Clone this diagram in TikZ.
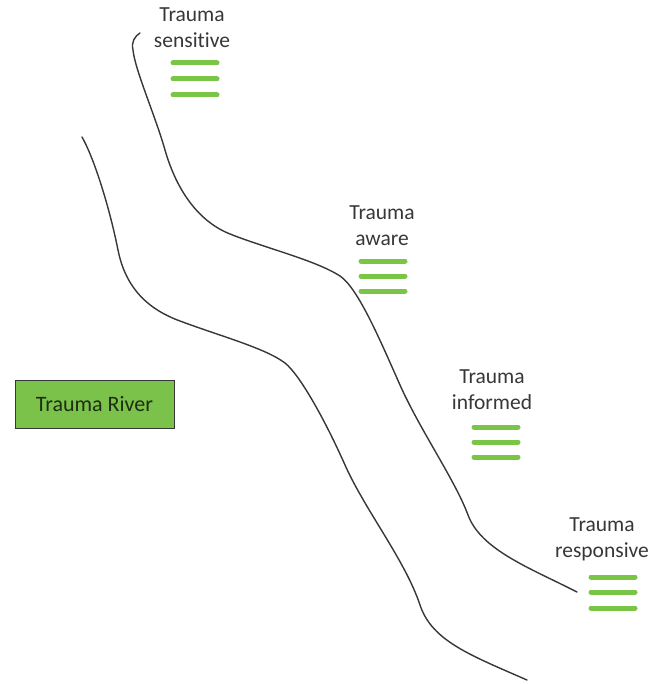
\documentclass[tikz,border=0pt]{standalone}
\usepackage{fontspec}
\setmainfont{Carlito}[Ligatures={NoCommon}]
\definecolor{bargreen}{RGB}{122,196,70}
\definecolor{boxgreen}{RGB}{122,194,74}
\definecolor{inkgray}{RGB}{55,55,55}
\begin{document}
\begin{tikzpicture}[x=1pt,y=-1pt,
  bank/.style={draw=inkgray,line width=1.4pt,line cap=round},
  lbl/.style={align=center,text=inkgray,font=\fontsize{21.5}{26}\selectfont,inner sep=0pt},
  bar/.style={draw=bargreen,line width=5pt,line cap=round}]
\useasboundingbox (0,0) rectangle (650,684);
% right (upper) bank
\draw[bank] (140,33) .. controls (135,36) and (131,42) .. (133,50)
  .. controls (135,70) and (155,115) .. (165,150)
  .. controls (175,185) and (195,220) .. (230,234)
  .. controls (265,248) and (315,260) .. (340,276)
  .. controls (358,288) and (380,340) .. (400,385)
  .. controls (420,430) and (455,480) .. (468,515)
  .. controls (481,550) and (530,568) .. (577,592);
% left (lower) bank
\draw[bank] (82,137) .. controls (95,160) and (110,210) .. (118,250)
  .. controls (126,290) and (150,310) .. (180,321)
  .. controls (220,336) and (265,348) .. (285,363)
  .. controls (300,375) and (325,420) .. (345,465)
  .. controls (365,510) and (405,560) .. (420,605)
  .. controls (432,641) and (470,655) .. (527,680);
% labels
\node[lbl] (ls) at (192,28) {Trauma\\sensitive};
\node[lbl] (la) at (382,226) {Trauma\\aware};
\node[lbl] (li) at (492,390) {Trauma\\informed};
\node[lbl] (lr) at (602,539) {Trauma\\responsive};
% bars
\foreach \x/\ys in {173/{63,79,95}, 361/{261,276,291}, 474/{427,442,457}, 591/{577,592,608}}{
  \foreach \y in \ys {\draw[bar] (\x,\y) -- ++(44,0);}
}
% box
\node[draw=inkgray,line width=1pt,fill=boxgreen,minimum width=159pt,minimum height=48pt,inner sep=0pt,
  font=\fontsize{22}{26}\selectfont,text={rgb,255:red,30;green,45;blue,20}] (box) at (94.5,404) {Trauma River};
\end{tikzpicture}
\end{document}
